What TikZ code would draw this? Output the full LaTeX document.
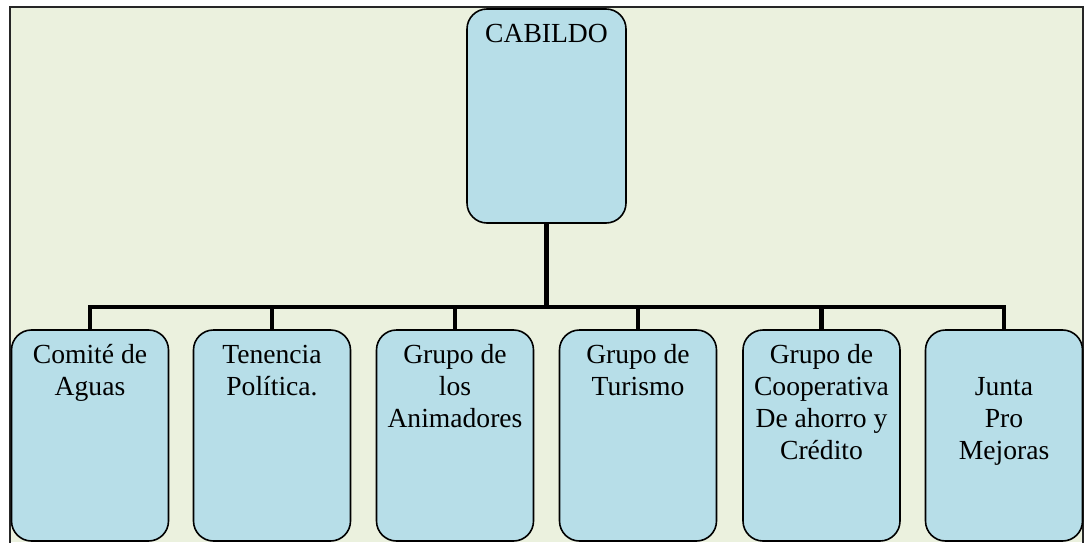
\documentclass[tikz,border=0pt]{standalone}
\usepackage{fontspec}
\setmainfont{Liberation Serif}
\definecolor{bggreen}{HTML}{EBF1DE}
\definecolor{boxblue}{HTML}{B7DEE8}
\begin{document}
\begin{tikzpicture}[x=1pt,y=1pt,
  orgbox/.style={draw=black, line width=1.6pt, fill=boxblue, rounded corners=20pt,
    rectangle, inner sep=0pt, outer sep=0pt, minimum width=157pt, minimum height=211pt},
  topbox/.style={orgbox, minimum width=159pt, minimum height=214pt},
  lbl/.style={anchor=base, align=center, inner sep=0pt,
    font=\fontsize{27.6}{32.3}\selectfont},
  conn/.style={line width=4.5pt, line join=miter}]
\useasboundingbox (0,0) rectangle (1091,542);
\fill[white] (0,0) rectangle (1091,542);
\fill[bggreen] (10,0) rectangle (1083,535);
\draw[line width=2pt, color=black!85] (10,-2) -- (10,535) -- (1083,535) -- (1083,-2);
% top box
\node[topbox] (cab) at (546.5,426) {};
\node[lbl] (cabt) at (546.5,499) {CABILDO};
% bottom boxes
\node[orgbox] (b1) at (90,106.5) {};
\node[orgbox] (b2) at (272,106.5) {};
\node[orgbox] (b3) at (455,106.5) {};
\node[orgbox] (b4) at (638,106.5) {};
\node[orgbox] (b5) at (821.5,106.5) {};
\node[orgbox] (b6) at (1004,106.5) {};
\node[lbl] (t1) at (90,146.7) {Comité de\\Aguas};
\node[lbl] (t2) at (272,146.7) {Tenencia\\Política.};
\node[lbl] (t3) at (455,114.4) {Grupo de\\los\\Animadores};
\node[lbl] (t4) at (638,146.7) {Grupo de\\Turismo};
\node[lbl] (t5) at (821.5,82.1) {Grupo de\\Cooperativa\\De ahorro y\\Crédito};
\node[lbl] (t6) at (1004,82.1) {Junta\\Pro\\Mejoras};
% connectors
\coordinate (hub) at (cab.south |- 0,235);
\draw[conn] (cab.south) -- (hub);
\draw[conn] (b1.north) |- (hub) -| (b6.north);
\foreach \b in {b2,b3,b4,b5}
  \draw[conn] (\b.north) -- (\b.north |- hub);
\end{tikzpicture}
\end{document}
